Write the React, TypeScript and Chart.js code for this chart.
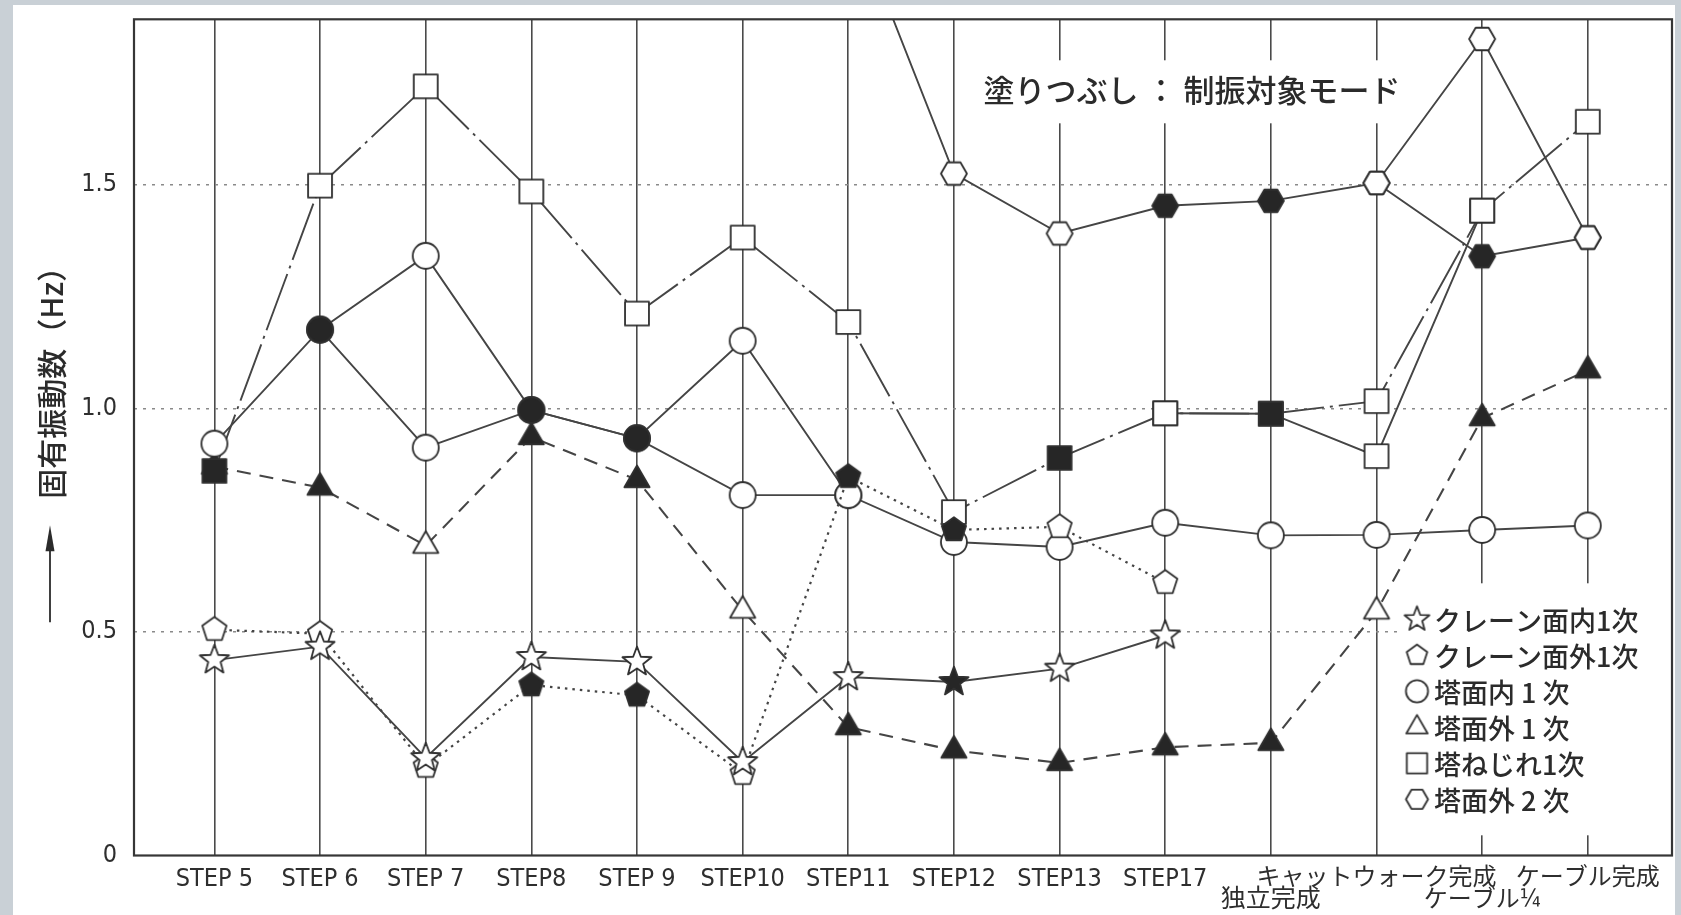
import { useEffect, useRef } from "react";
import { Chart, registerables } from "chart.js";

Chart.register(...registerables);

// ---- data ----
const categories = [
  "STEP 5", "STEP 6", "STEP 7", "STEP8", "STEP 9", "STEP10", "STEP11",
  "STEP12", "STEP13", "STEP17", "独立完成", "キャットウォーク完成", "ケーブル¼", "ケーブル完成",
];
const xTickLabels: (string | string[])[] = [
  "STEP 5", "STEP 6", "STEP 7", "STEP8", "STEP 9", "STEP10", "STEP11",
  "STEP12", "STEP13", "STEP17", ["", "独立完成"], "キャットウォーク完成", ["", "ケーブル¼"], "ケーブル完成",
];
const yTicks = [0, 0.5, 1.0, 1.5];
const yTickLabels = ["0", "0.5", "1.0", "1.5"];

// クレーン面内1次 (star)
const craneIn1 = [0.437, 0.467, 0.218, 0.444, 0.433, 0.209, 0.399, 0.388, 0.418, 0.492, null, null, null, null];
const craneIn1Filled = [7];
// クレーン面外1次 (pentagon)
const craneOut1 = [0.505, 0.496, 0.199, 0.381, 0.358, 0.183, 0.847, 0.728, 0.735, 0.610, null, null, null, null];
const craneOut1Filled = [3, 4, 6, 7];
// 塔面内1次 (circle)
const towerIn1 = [0.921, 1.176, 1.341, 0.996, 0.933, 1.151, 0.806, 0.701, 0.690, 0.744, 0.716, 0.717, 0.728, 0.738];
const towerIn1Filled = [1, 3, 4];
const towerIn1Branch = [null, 1.176, 0.912, 0.996, 0.933, 0.806, 0.806, null, null, null, null, null, null, null];
const towerIn1BranchFilled = [1, 3, 4];
// 塔面外1次 (triangle)
const towerOut1 = [0.87, 0.823, 0.693, 0.936, 0.84, 0.548, 0.287, 0.235, 0.207, 0.242, 0.252, 0.546, 0.978, 1.085];
const towerOut1Filled = [0, 1, 3, 4, 6, 7, 8, 9, 10, 12, 13];
// 塔ねじれ1次 (square)
const towerTor1 = [0.86, 1.498, 1.72, 1.485, 1.212, 1.382, 1.193, 0.768, 0.889, 0.989, 0.988, 1.016, 1.442, 1.641];
const towerTor1Filled = [0, 8, 10];
const towerTor1Branch = [null, null, null, null, null, null, null, null, null, 0.989, 0.988, 0.893, 1.442, null];
const towerTor1BranchFilled = [10];
// 塔面外2次 (hexagon)
const towerOut2 = [null, null, null, null, null, null, 2.125, 1.525, 1.391, 1.453, 1.464, 1.504, 1.340, 1.382];
const towerOut2Filled = [9, 10, 12];
const towerOut2Branch = [null, null, null, null, null, null, null, null, null, null, null, 1.504, 1.826, 1.382];
const towerOut2BranchFilled: number[] = [];

const legendLabels = ["クレーン面内1次", "クレーン面外1次", "塔面内 1 次", "塔面外 1 次", "塔ねじれ1次", "塔面外 2 次"];
const legendShapes = ["star", "pentagon", "circle", "triangle", "square", "hexagon"];
const noteText = "塗りつぶし ： 制振対象モード";
const yTitle = "固有振動数（Hz）";

// ---- styling helpers ----
const LINE = "#454545";
const LATIN = "'Liberation Sans Narrow', 'DejaVu Sans Condensed', 'Noto Sans CJK JP', sans-serif";
const CJK = "'Noto Sans CJK JP', sans-serif";

const markerCache: Record<string, HTMLCanvasElement> = {};
function marker(shape: string, filled: boolean, scale = 1): HTMLCanvasElement {
  const key = shape + (filled ? "1" : "0") + scale;
  if (markerCache[key]) return markerCache[key];
  const r = 13 * scale;
  const size = Math.ceil(2 * r * 1.2 + 8);
  const cv = document.createElement("canvas");
  cv.width = size;
  cv.height = size;
  const g = cv.getContext("2d")!;
  const c = size / 2;
  g.beginPath();
  const poly = (n: number, rad: number, start: number) => {
    for (let k = 0; k < n; k++) {
      const a = start + (k * 2 * Math.PI) / n;
      const px = c + rad * Math.cos(a);
      const py = c + rad * Math.sin(a);
      if (k === 0) g.moveTo(px, py);
      else g.lineTo(px, py);
    }
    g.closePath();
  };
  if (shape === "circle") {
    g.arc(c, c, r, 0, Math.PI * 2);
  } else if (shape === "square") {
    const h = r * 0.92;
    g.rect(c - h, c - h, 2 * h, 2 * h);
  } else if (shape === "triangle") {
    poly(3, r * 1.12, -Math.PI / 2);
  } else if (shape === "pentagon") {
    poly(5, r * 0.98, -Math.PI / 2);
  } else if (shape === "hexagon") {
    poly(6, r, 0);
  } else if (shape === "star") {
    const ro = r * 1.18;
    const ri = r * 0.5;
    for (let k = 0; k < 10; k++) {
      const a = -Math.PI / 2 + (k * Math.PI) / 5;
      const rad = k % 2 === 0 ? ro : ri;
      const px = c + rad * Math.cos(a);
      const py = c + rad * Math.sin(a);
      if (k === 0) g.moveTo(px, py);
      else g.lineTo(px, py);
    }
    g.closePath();
  }
  g.fillStyle = filled ? "#262626" : "#ffffff";
  g.fill();
  g.lineWidth = 1.8;
  g.strokeStyle = "#303030";
  g.lineJoin = "round";
  g.stroke();
  markerCache[key] = cv;
  return cv;
}

function series(
  label: string,
  values: (number | null)[],
  filled: number[],
  shape: string,
  dash: number[],
  width = 1.9,
) {
  return {
    label,
    data: values.map((y, i) => ({ x: i, y })),
    borderColor: LINE,
    borderWidth: width,
    borderDash: dash,
    tension: 0,
    fill: false,
    spanGaps: false,
    pointRadius: 12,
    pointHoverRadius: 12,
    pointStyle: (ctx: any) =>
      marker(shape, typeof ctx.dataIndex === "number" && filled.includes(ctx.dataIndex)),
  };
}

const decorPlugin = {
  id: "decor",
  afterDatasetsDraw(chart: any) {
    const { ctx, chartArea: a } = chart;
    ctx.save();

    // note text with white background
    ctx.fillStyle = "#ffffff";
    ctx.fillRect(a.left + 831, a.top + 41, 439, 63);
    ctx.fillStyle = "#2b2b2b";
    ctx.font = `500 31px ${CJK}`;
    ctx.textAlign = "center";
    ctx.textBaseline = "middle";
    ctx.fillText(noteText, a.left + 1058, a.top + 71);

    // legend
    ctx.fillStyle = "#ffffff";
    ctx.fillRect(a.left + 1266, a.top + 564, a.right - (a.left + 1266) - 2, 252);
    ctx.font = `500 27px ${CJK}`;
    ctx.textAlign = "left";
    for (let i = 0; i < legendLabels.length; i++) {
      const yy = a.top + 600 + i * 36;
      const m = marker(legendShapes[i], false, 0.85);
      ctx.drawImage(m, a.left + 1283 - m.width / 2, yy - m.height / 2);
      ctx.fillStyle = "#2b2b2b";
      ctx.fillText(legendLabels[i], a.left + 1300, yy + 1);
    }

    // frame
    ctx.strokeStyle = "#363636";
    ctx.lineWidth = 2.2;
    ctx.strokeRect(a.left, a.top, a.right - a.left, a.bottom - a.top);

    // y axis title (rotated) and arrow
    ctx.save();
    ctx.translate(a.left - 82.5, a.top + 356);
    ctx.rotate(-Math.PI / 2);
    ctx.fillStyle = "#2b2b2b";
    ctx.font = `500 30px ${CJK}`;
    ctx.textAlign = "center";
    ctx.textBaseline = "middle";
    ctx.fillText(yTitle, 0, 0);
    ctx.restore();

    const ax = a.left - 84;
    const aTop = a.top + 506;
    const aBot = a.top + 603;
    ctx.strokeStyle = "#2b2b2b";
    ctx.lineWidth = 1.8;
    ctx.beginPath();
    ctx.moveTo(ax, aBot);
    ctx.lineTo(ax, aTop + 18);
    ctx.stroke();
    ctx.fillStyle = "#2b2b2b";
    ctx.beginPath();
    ctx.moveTo(ax, aTop);
    ctx.lineTo(ax - 4.5, aTop + 26);
    ctx.lineTo(ax + 4.5, aTop + 26);
    ctx.closePath();
    ctx.fill();

    ctx.restore();
  },
};

export default function App() {
  const ref = useRef<HTMLCanvasElement | null>(null);

  useEffect(() => {
    document.body.style.margin = "0";
    document.body.style.background = "#c9d0d6";
    if (!ref.current) return;

    const datasets: any[] = [
      series("クレーン面内1次", craneIn1, craneIn1Filled, "star", []),
      series("クレーン面外1次", craneOut1, craneOut1Filled, "pentagon", [2.5, 5], 2.2),
      series("塔面内1次", towerIn1, towerIn1Filled, "circle", []),
      series("塔面内1次 (分岐)", towerIn1Branch, towerIn1BranchFilled, "circle", []),
      series("塔ねじれ1次", towerTor1, towerTor1Filled, "square", [60, 6, 3, 6]),
      series("塔ねじれ1次 (分岐)", towerTor1Branch, towerTor1BranchFilled, "square", []),
      series("塔面外2次", towerOut2, towerOut2Filled, "hexagon", []),
      series("塔面外2次 (分岐)", towerOut2Branch, towerOut2BranchFilled, "hexagon", []),
      series("塔面外1次", towerOut1, towerOut1Filled, "triangle", [14, 9], 2.1),
    ];

    const chart = new Chart(ref.current, {
      type: "line",
      data: { datasets },
      plugins: [decorPlugin],
      options: {
        animation: false,
        responsive: true,
        maintainAspectRatio: false,
        layout: { autoPadding: false, padding: { top: 14.3, right: 3, left: 0, bottom: 0 } },
        plugins: {
          legend: { display: false },
          tooltip: { enabled: false },
          title: { display: false },
        },
        scales: {
          x: {
            type: "linear",
            min: -0.761,
            max: 13.797,
            afterBuildTicks: (s: any) => {
              s.ticks = categories.map((_, i) => ({ value: i }));
            },
            afterFit: (s: any) => {
              s.height = 59.5;
              s.paddingLeft = 0;
              s.paddingRight = 0;
            },
            grid: { color: "#4a4a4a", lineWidth: 1.6, drawTicks: false },
            border: { display: false, dash: [] },
            ticks: {
              autoSkip: false,
              maxRotation: 0,
              minRotation: 0,
              padding: 12.75,
              color: "#2e2e2e",
              font: (c: any) => ({
                family: LATIN,
                size: c.index === 11 || c.index >= 12 ? 24 : 25,
                lineHeight: c.index === 11 || c.index >= 12 ? 0.9 : 0.86,
              }),
              callback: (v: any) => xTickLabels[Math.round(Number(v))] ?? "",
            },
          },
          y: {
            type: "linear",
            min: 0,
            max: 1.87,
            afterBuildTicks: (s: any) => {
              s.ticks = yTicks.map((v) => ({ value: v }));
            },
            afterFit: (s: any) => {
              s.width = 121;
              s.paddingTop = 0;
              s.paddingBottom = 0;
            },
            grid: {
              color: (c: any) => (c.tick && c.tick.value === 0 ? "rgba(0,0,0,0)" : "#8a8a8a"),
              lineWidth: 1.6,
              drawTicks: false,
            },
            border: { display: false, dash: [3, 6] },
            ticks: {
              padding: 17,
              color: "#2e2e2e",
              font: { family: LATIN, size: 25 },
              callback: (_v: any, i: number) => yTickLabels[i] ?? "",
            },
          },
        },
      } as any,
    });

    return () => chart.destroy();
  }, []);

  return (
    <div
      style={{
        position: "absolute",
        left: 13,
        top: 5,
        width: 1662,
        height: 910,
        background: "#ffffff",
      }}
    >
      <canvas ref={ref} />
    </div>
  );
}
